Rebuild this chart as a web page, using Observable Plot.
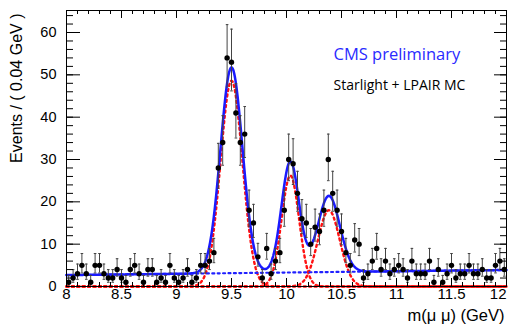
<!DOCTYPE html>
<html><head><meta charset="utf-8">
<script src="https://cdn.jsdelivr.net/npm/d3@7"></script>
<script src="https://cdn.jsdelivr.net/npm/@observablehq/plot@0.6"></script>
<style>body{margin:0;background:#fff}svg{display:block}</style>
</head><body><div id="chart"></div>
<script>
// ---- data ----
const binStart = 8.0;
const binWidth = 0.04;
const counts = [
  1, 2, 3, 5, 3, 1, 5, 5, 3, 2,
  2, 4, 2, 1, 4, 5, 3, 1, 4, 4,
  1, 2, 1, 5, 2, 1, 2, 4, 1, 2,
  5, 5, 6, 8, 28, 34, 54, 53, 41, 34,
  36, 18, 15, 7, 2, 9, 3, 6, 8, 18,
  30, 29, 22, 16, 15, 10, 14, 13, 18, 30,
  22, 18, 13, 8, 5, 11, 10, 2, 3, 6,
  9, 4, 6, 3, 4, 5, 4, 2, 6, 3,
  3, 3, 6, 1, 4, 1, 3, 5, 2, 3,
  3, 5, 3, 3, 4, 2, 2, 5, 6, 4
];
// fit model parameters
const peakNames = ["Y(1S)", "Y(2S)", "Y(3S)"];
const peakMeans = [9.50, 10.035, 10.385];
const peakSigmas = [0.10, 0.08, 0.10];
const peakAmps = [48.6, 26.2, 18.0];
const bkgAt = [8, 12];
const bkgLevel = [2.7, 3.9];

const xTicks = [8, 8.5, 9, 9.5, 10, 10.5, 11, 11.5, 12];
const xMinorTicks = d3.range(8, 12.0001, 0.1);
const yTicks = [0, 10, 20, 30, 40, 50, 60];
const yMinorTicks = d3.range(0, 65, 2);

// ---- derived tables ----
const data = counts.map((n, i) => {
  const s = Math.sqrt(n + 0.25);
  return {m: binStart + binWidth * (i + 0.5), n, lo: n - (s - 0.5), hi: n + s + 0.5};
});
const bkg = m => bkgLevel[0] + (bkgLevel[1] - bkgLevel[0]) * (m - bkgAt[0]) / (bkgAt[1] - bkgAt[0]);
const gauss = (k, m) => peakAmps[k] * Math.exp(-0.5 * ((m - peakMeans[k]) / peakSigmas[k]) ** 2);
const grid = d3.range(8, 12.0001, 0.005);
const total = grid.map(m => ({m, v: bkg(m) + gauss(0, m) + gauss(1, m) + gauss(2, m)}));
const bkgCurve = grid.map(m => ({m, v: bkg(m)}));
const sigCurves = grid.flatMap(m => peakNames.map((p, k) => ({m, v: gauss(k, m), p})));

const W = 515, H = 331, mL = 66, mR = 9, mT = 10, mB = 45;
const pw = W - mL - mR, ph = H - mT - mB;
const cap = 0.012;
const font = "Liberation Sans, Arial, Helvetica, sans-serif";

const chart = Plot.plot({
  width: W, height: H,
  marginLeft: mL, marginRight: mR, marginTop: mT, marginBottom: mB,
  style: {fontFamily: font, background: "white"},
  x: {domain: [8, 12], axis: null},
  y: {domain: [0, 65.2], axis: null},
  marks: [
    Plot.ruleY([0], {stroke: "#a00000", strokeWidth: 1.2}),
    Plot.line(sigCurves, {x: "m", y: "v", z: "p", stroke: "#ff1010", strokeWidth: 2.4, strokeDasharray: "2,3.4"}),
    Plot.line(bkgCurve, {x: "m", y: "v", stroke: "#2020ff", strokeWidth: 2.2, strokeDasharray: "2,3.4"}),
    Plot.line(total, {x: "m", y: "v", stroke: "#1a1aff", strokeWidth: 2.5}),
    Plot.ruleX(data, {x: "m", y1: "lo", y2: "hi", stroke: "#444", strokeWidth: 1}),
    Plot.link(data, {x1: d => d.m - cap, x2: d => d.m + cap, y1: "hi", y2: "hi", stroke: "#444", strokeWidth: 1}),
    Plot.link(data, {x1: d => d.m - cap, x2: d => d.m + cap, y1: "lo", y2: "lo", stroke: "#444", strokeWidth: 1}),
    Plot.dot(data, {x: "m", y: "n", r: 2.7, fill: "black", stroke: "none"}),
    // ticks (inward, all four sides)
    Plot.tickX(xTicks, {x: d => d, insetTop: ph - 8, stroke: "black"}),
    Plot.tickX(xMinorTicks, {x: d => d, insetTop: ph - 4, stroke: "black"}),
    Plot.tickX(xTicks, {x: d => d, insetBottom: ph - 8, stroke: "black"}),
    Plot.tickX(xMinorTicks, {x: d => d, insetBottom: ph - 4, stroke: "black"}),
    Plot.tickY(yTicks, {y: d => d, insetRight: pw - 14, stroke: "black"}),
    Plot.tickY(yMinorTicks, {y: d => d, insetRight: pw - 7, stroke: "black"}),
    Plot.tickY(yTicks, {y: d => d, insetLeft: pw - 12, stroke: "black"}),
    Plot.tickY(yMinorTicks, {y: d => d, insetLeft: pw - 6, stroke: "black"}),
    Plot.frame({stroke: "black", strokeWidth: 1}),
    // tick labels
    Plot.text(xTicks.slice(0, -1), {x: d => d, frameAnchor: "bottom", dy: 12, text: d => String(d), fontSize: 15, fill: "black"}),
    Plot.text(xTicks.slice(-1), {x: d => d, frameAnchor: "bottom", dy: 12, dx: 0, textAnchor: "end", text: d => String(d), fontSize: 15, fill: "black"}),
    Plot.text(yTicks, {y: d => d, frameAnchor: "left", dx: -10, textAnchor: "end", text: d => String(d), fontSize: 14.5, fill: "black"}),
    // axis titles
    Plot.text(["Events / ( 0.04 GeV )"], {frameAnchor: "top-left", dx: -56, dy: 3, rotate: -90, textAnchor: "end", fontSize: 16, fill: "black"}),
    Plot.text(["m(\u03bc \u03bc) (GeV)"], {frameAnchor: "bottom-right", dx: -2, dy: 34, textAnchor: "end", fontSize: 16.5, fill: "black"}),
    // legend texts
    Plot.text(["CMS preliminary"], {frameAnchor: "top-left", dx: 267, dy: 38, textAnchor: "start", fontSize: 16.5, fill: "#2a2aff", fontFamily: "Open Sans, sans-serif"}),
    Plot.text(["Starlight + LPAIR MC"], {frameAnchor: "top-left", dx: 267, dy: 70, textAnchor: "start", fontSize: 14, fill: "black", fontFamily: "Open Sans, sans-serif"})
  ]
});
document.getElementById("chart").appendChild(chart);
</script>
</body></html>
